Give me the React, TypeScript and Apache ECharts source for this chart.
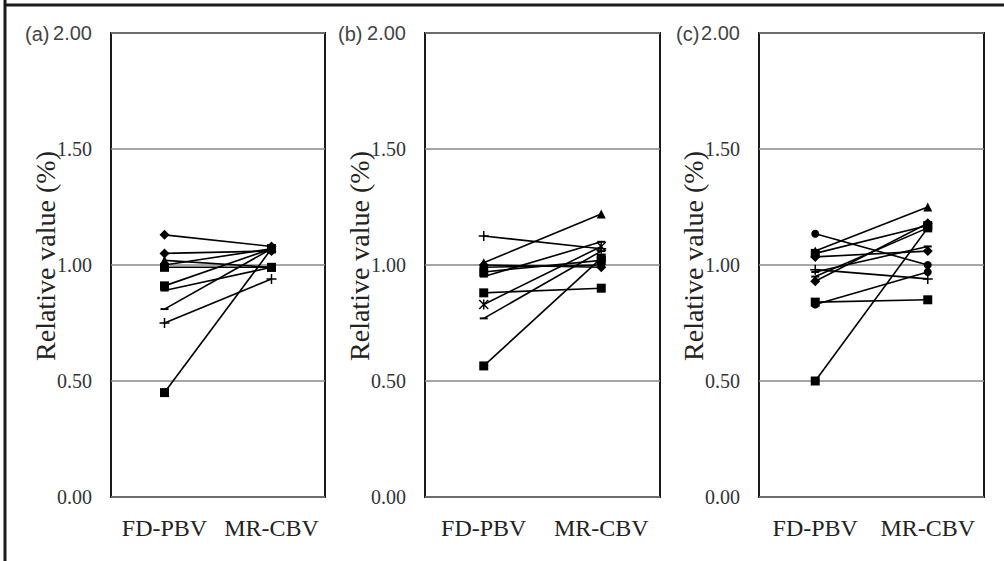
import React, { useEffect, useRef } from "react";
import * as echarts from "echarts";

const categories = ["FD-PBV", "MR-CBV"];
const yTicks = [0, 0.5, 1.0, 1.5, 2.0];
const panelLabels = ["(a)", "(b)", "(c)"];
const yAxisTitle = "Relative value (%)";

const fdA = [1.13, 1.05, 1.02, 1.0, 0.99, 0.91, 0.89, 0.81, 0.75, 0.45];
const mrA = [1.08, 1.06, 0.99, 1.07, 0.99, 1.07, 0.99, 1.07, 0.94, 1.07];
const markersA = ["diamond", "diamond", "triangle", "circle", "square", "square", "dash", "dash", "plus", "square"];

const fdB = [1.125, 1.01, 1.0, 0.99, 0.97, 0.95, 0.88, 0.83, 0.77, 0.565];
const mrB = [1.07, 1.22, 0.99, 1.0, 1.02, 1.1, 0.9, 1.08, 1.06, 1.03];
const markersB = ["plus", "triangle", "diamond", "circle", "square", "dash", "square", "asterisk", "dash", "square"];

const fdC = [1.135, 1.06, 1.05, 1.035, 0.98, 0.97, 0.95, 0.93, 0.84, 0.83, 0.5];
const mrC = [1.0, 1.25, 1.17, 1.06, 0.94, 1.08, 1.16, 1.18, 0.85, 0.97, 1.16];
const markersC = ["circle", "triangle", "square", "diamond", "plus", "dash", "dash", "diamond", "square", "circle", "square"];

const panels = [
  { fd: fdA, mr: mrA, markers: markersA },
  { fd: fdB, mr: mrB, markers: markersB },
  { fd: fdC, mr: mrC, markers: markersC },
];

const layout = [
  { left: 111, width: 214, labelX: 25 },
  { left: 425, width: 235, labelX: 338 },
  { left: 759, width: 225, labelX: 676 },
];

const symbolDefs: Record<string, { symbol: string; size: number | number[] }> = {
  diamond: { symbol: "diamond", size: 10 },
  square: { symbol: "rect", size: 9 },
  triangle: { symbol: "triangle", size: 9 },
  circle: { symbol: "circle", size: 8 },
  plus: {
    symbol: "path://M4.25,0H5.75V4.25H10V5.75H5.75V10H4.25V5.75H0V4.25H4.25Z",
    size: 10,
  },
  dash: { symbol: "path://M0,0H10V2H0Z", size: [8, 2] },
  asterisk: {
    symbol:
      "path://M0,1L1,0L5,4L9,0L10,1L6,5L10,9L9,10L5,6L1,10L0,9L4,5Z M4.3,0H5.7V10H4.3Z",
    size: 10,
  },
};

export default function App() {
  const ref = useRef<HTMLDivElement>(null);
  useEffect(() => {
    if (!ref.current) return;
    const chart = echarts.init(ref.current, null, { renderer: "svg" });
    const grids: any[] = [];
    const xAxes: any[] = [];
    const yAxes: any[] = [];
    const series: any[] = [];
    const graphics: any[] = [
      { type: "line", shape: { x1: 5, y1: 0, x2: 5, y2: 561 }, style: { stroke: "#1a1a1a", lineWidth: 3 } },
      { type: "line", shape: { x1: 5, y1: 5, x2: 1004, y2: 5 }, style: { stroke: "#1a1a1a", lineWidth: 3 } },
    ];
    panels.forEach((p, i) => {
      const L = layout[i];
      grids.push({
        left: L.left,
        width: L.width,
        top: 33,
        height: 464,
        show: true,
        borderColor: "#1a1a1a",
        borderWidth: 2,
        backgroundColor: "transparent",
      });
      xAxes.push({
        type: "category",
        gridIndex: i,
        data: categories,
        boundaryGap: true,
        axisLine: { show: false },
        axisTick: { show: false },
        axisLabel: {
          interval: 0,
          hideOverlap: false,
          margin: 19,
          fontFamily: "'Liberation Serif', 'Times New Roman', serif",
          fontSize: 24,
          color: "#222",
        },
        splitLine: { show: false },
      });
      yAxes.push({
        type: "value",
        gridIndex: i,
        min: yTicks[0],
        max: yTicks[yTicks.length - 1],
        interval: 0.5,
        axisLine: { show: false },
        axisTick: { show: false },
        splitLine: { show: true, lineStyle: { color: "#888", width: 1.5 } },
        axisLabel: {
          margin: 19,
          showMinLabel: true,
          showMaxLabel: true,
          fontFamily: "'Liberation Serif', 'Times New Roman', serif",
          fontSize: 20,
          color: "#333",
          formatter: (v: number) => (v === 2 ? "{s|" + v.toFixed(2) + "}" : v.toFixed(2)),
          rich: {
            s: { fontFamily: "'Liberation Sans', Arial, sans-serif", fontSize: 20, color: "#444" },
          },
        },
      });
      p.fd.forEach((v, k) => {
        const sd = symbolDefs[p.markers[k]];
        series.push({
          type: "line",
          xAxisIndex: i,
          yAxisIndex: i,
          data: [v, p.mr[k]],
          symbol: sd.symbol,
          symbolSize: sd.size,
          showSymbol: true,
          lineStyle: { color: "#000", width: 1.6 },
          itemStyle: { color: "#000", borderWidth: 0 },
          emphasis: { disabled: true },
          z: 3,
        });
      });
      graphics.push({
        type: "text",
        left: L.labelX,
        top: 24,
        style: {
          text: panelLabels[i],
          font: "20px 'Liberation Sans', Arial, sans-serif",
          fill: "#444",
        },
      });
      graphics.push({
        type: "text",
        x: L.left - 52,
        y: 256,
        rotation: Math.PI / 2,
        z: 10,
        style: {
          text: yAxisTitle,
          font: "28px 'Liberation Serif', 'Times New Roman', serif",
          fill: "#222",
          align: "center",
          verticalAlign: "bottom",
        },
      });
    });
    chart.setOption({
      animation: false,
      backgroundColor: "#fff",
      grid: grids,
      xAxis: xAxes,
      yAxis: yAxes,
      series,
      graphic: graphics,
    });
    return () => chart.dispose();
  }, []);
  return (
    <div
      ref={ref}
      style={{ position: "fixed", left: 0, top: 0, width: 1004, height: 561 }}
    />
  );
}
